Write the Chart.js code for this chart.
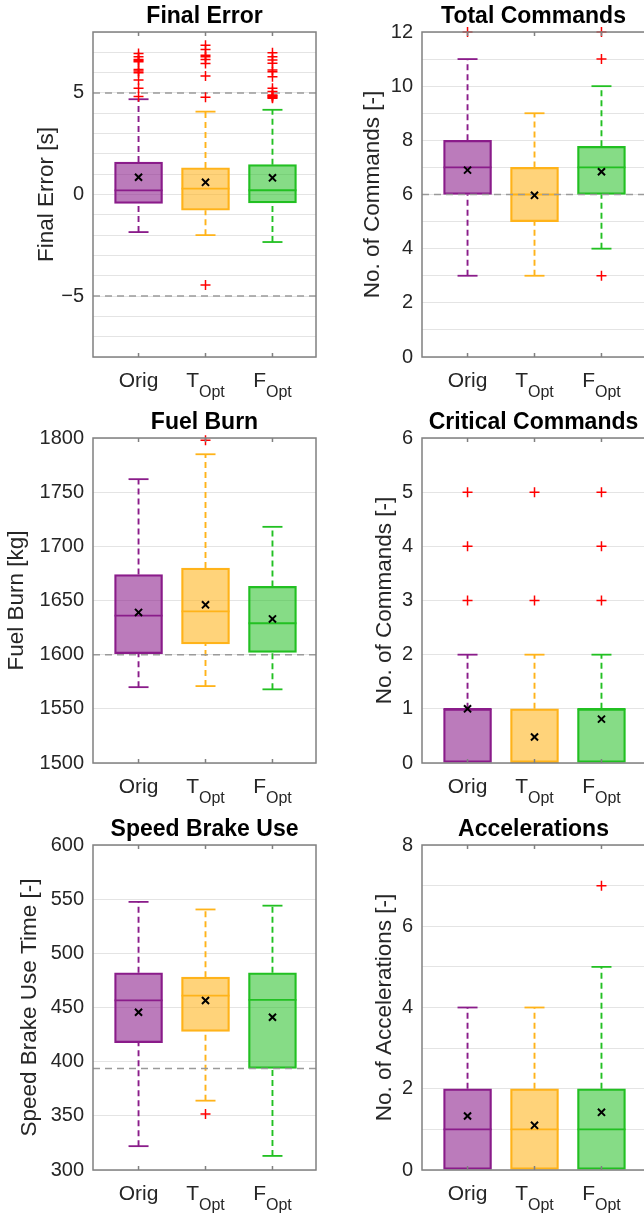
<!DOCTYPE html>
<html>
<head>
<meta charset="utf-8">
<script src="https://cdn.jsdelivr.net/npm/chart.js@4"></script>
<style>
  html, body { margin: 0; padding: 0; background: #fff; overflow: hidden; }
  body { width: 644px; height: 1213px; position: relative; }
  canvas { position: absolute; }
</style>
</head>
<body>
<canvas id="finalError" width="322" height="400" style="left:0;top:0"></canvas>
<canvas id="totalCmds" width="330" height="400" style="left:322px;top:0"></canvas>
<canvas id="fuelBurn" width="322" height="400" style="left:0;top:406px"></canvas>
<canvas id="critCmds" width="330" height="400" style="left:322px;top:406px"></canvas>
<canvas id="speedBrake" width="322" height="400" style="left:0;top:813px"></canvas>
<canvas id="accels" width="330" height="400" style="left:322px;top:813px"></canvas>
<script>
// groups on the x axis: main label + subscript
const groups = ['Orig', 'T', 'F'];
const groupSubs = ['', 'Opt', 'Opt'];
const groupColors = ['#8a1c8a', '#ffb31a', '#22c022'];
const groupFills = ['rgba(138,28,138,0.58)', 'rgba(255,179,26,0.58)', 'rgba(34,192,34,0.55)'];

// box stats per group: [lower whisker, q1, median, q3, upper whisker]
const errBox = [[-1.85, -0.44, 0.20, 1.60, 4.69], [-2.00, -0.77, 0.29, 1.31, 4.08], [-2.34, -0.41, 0.21, 1.47, 4.17]];
const errMean = [0.85, 0.60, 0.82];
const errOut = [
  [4.82, 5.23, 5.64, 6.00, 6.08, 6.15, 6.53, 6.60, 6.65, 6.78, 6.94],
  [-4.46, 4.79, 5.83, 6.45, 6.65, 6.78, 6.86, 7.14, 7.35],
  [4.74, 4.78, 4.82, 4.86, 4.90, 5.07, 5.23, 5.80, 6.04, 6.13, 6.46, 6.62, 6.78, 6.98]
];
const errTicks = [-5, 0, 5];
const errRef = [5, -5];

const cmdBox = [[3, 6, 7, 8, 11], [3, 5, 6, 7, 9], [4, 6, 7, 7.78, 10]];
const cmdMean = [6.9, 5.97, 6.84];
const cmdOut = [[12], [], [3, 11, 12]];
const cmdTicks = [0, 2, 4, 6, 8, 10, 12];
const cmdRef = [6];

const fuelBox = [[1570, 1601, 1636, 1674, 1762], [1571, 1610, 1640, 1680, 1785], [1568, 1602, 1629, 1663, 1718]];
const fuelMean = [1639, 1646, 1633];
const fuelOut = [[], [1798], []];
const fuelTicks = [1500, 1550, 1600, 1650, 1700, 1750, 1800];
const fuelRef = [1600];

const critBox = [[0, 0, 1, 1, 2], [0, 0, 0, 1, 2], [0, 0, 1, 1, 2]];
const critMean = [1.0, 0.48, 0.81];
const critOut = [[3, 4, 5], [3, 5], [3, 4, 5]];
const critTicks = [0, 1, 2, 3, 4, 5, 6];
const critRef = [];

const sbBox = [[322, 417.6, 456.5, 482, 547.5], [364, 428, 461, 478, 540.5], [313, 393.8, 457, 482, 544]];
const sbMean = [445.6, 456.5, 441];
const sbOut = [[], [351.6], []];
const sbTicks = [300, 350, 400, 450, 500, 550, 600];
const sbRef = [393.8];

const accBox = [[0, 0, 1, 2, 4], [0, 0, 1, 2, 4], [0, 0, 1, 2, 5]];
const accMean = [1.33, 1.1, 1.42];
const accOut = [[], [], [7]];
const accTicks = [0, 2, 4, 6, 8];
const accRef = [];

const X_MIN = 0.32, X_MAX = 3.65;
const FONT = "'Liberation Sans', Arial, Helvetica, sans-serif";
Chart.defaults.font.family = FONT;

const LEFT = { chartLeft: 93, padRight: 6 };
const RIGHT = { chartLeft: 100, padRight: 7 };

const panels = [
  { id: 'finalError', side: LEFT, title: 'Final Error', yTitle: 'Final Error [s]', box: errBox, mean: errMean, out: errOut, ticks: errTicks, ref: errRef, min: -8, max: 8, step: 1, padLeft: 33 },
  { id: 'totalCmds', side: RIGHT, title: 'Total Commands', yTitle: 'No. of Commands [-]', box: cmdBox, mean: cmdMean, out: cmdOut, ticks: cmdTicks, ref: cmdRef, min: 0, max: 12, step: 1, padLeft: 37 },
  { id: 'fuelBurn', side: LEFT, title: 'Fuel Burn', yTitle: 'Fuel Burn [kg]', box: fuelBox, mean: fuelMean, out: fuelOut, ticks: fuelTicks, ref: fuelRef, min: 1500, max: 1800, step: 50, padLeft: 3 },
  { id: 'critCmds', side: RIGHT, title: 'Critical Commands', yTitle: 'No. of Commands [-]', box: critBox, mean: critMean, out: critOut, ticks: critTicks, ref: critRef, min: 0, max: 6, step: 1, padLeft: 49 },
  { id: 'speedBrake', side: LEFT, title: 'Speed Brake Use', yTitle: 'Speed Brake Use Time [-]', box: sbBox, mean: sbMean, out: sbOut, ticks: sbTicks, ref: sbRef, min: 300, max: 600, step: 50, padLeft: 16 },
  { id: 'accels', side: RIGHT, title: 'Accelerations', yTitle: 'No. of Accelerations [-]', box: accBox, mean: accMean, out: accOut, ticks: accTicks, ref: accRef, min: 0, max: 8, step: 1, padLeft: 49 }
];

const fmt = v => v < 0 ? '\u2212' + Math.abs(v) : String(v);

// axes frame, inward ticks and the subscripted group labels
const framePlugin = {
  id: 'frame',
  afterDatasetsDraw(chart) {
    const { ctx, chartArea: a } = chart;
    const x = chart.scales.x;
    ctx.save();
    ctx.strokeStyle = '#808080';
    ctx.lineWidth = 1.5;
    ctx.strokeRect(a.left, a.top, a.right - a.left, a.bottom - a.top);
    ctx.beginPath();
    groups.forEach((g, i) => {
      const px = x.getPixelForValue(i + 1);
      ctx.moveTo(px, a.top); ctx.lineTo(px, a.top + 4);
      ctx.moveTo(px, a.bottom); ctx.lineTo(px, a.bottom - 4);
    });
    ctx.stroke();
    ctx.restore();
  },
  afterDraw(chart) {
    const { ctx, chartArea: a } = chart;
    const x = chart.scales.x;
    ctx.save();
    ctx.fillStyle = '#262626';
    ctx.textAlign = 'left';
    ctx.textBaseline = 'alphabetic';
    const mainFont = '21px ' + FONT, subFont = '16px ' + FONT;
    groups.forEach((g, i) => {
      const px = x.getPixelForValue(i + 1);
      ctx.font = mainFont;
      const w1 = ctx.measureText(g).width;
      ctx.font = subFont;
      const w2 = groupSubs[i] ? ctx.measureText(groupSubs[i]).width : 0;
      const x0 = px - (w1 + w2) / 2;
      ctx.font = mainFont;
      ctx.fillText(g, x0, a.bottom + 30);
      if (groupSubs[i]) {
        ctx.font = subFont;
        ctx.fillText(groupSubs[i], x0 + w1, a.bottom + 40);
      }
    });
    ctx.restore();
  }
};

function makeChart(p) {
  const xs = groups.map((g, i) => i + 1);
  const datasets = [];

  // boxes q1..q3
  datasets.push({
    type: 'bar',
    data: p.box.map((b, i) => ({ x: xs[i], y: [b[1], b[3]] })),
    backgroundColor: groupFills, borderColor: groupColors,
    borderWidth: 1.6, borderSkipped: false, barThickness: 48, order: 6
  });

  // dashed whiskers
  p.box.forEach((b, i) => {
    datasets.push({
      type: 'line',
      data: [{ x: xs[i], y: b[0] }, { x: xs[i], y: b[1] }, { x: xs[i], y: null }, { x: xs[i], y: b[3] }, { x: xs[i], y: b[4] }],
      borderColor: groupColors[i], borderWidth: 1.9, borderDash: [6, 4],
      pointRadius: 0, spanGaps: false, fill: false, order: 5
    });
  });

  // whisker caps
  const caps = [], capColors = [];
  p.box.forEach((b, i) => {
    if (b[4] > b[3]) { caps.push({ x: xs[i], y: b[4] }); capColors.push(groupColors[i]); }
    if (b[0] < b[1]) { caps.push({ x: xs[i], y: b[0] }); capColors.push(groupColors[i]); }
  });
  datasets.push({
    type: 'scatter', data: caps, pointStyle: 'line', pointRadius: 10,
    pointBorderColor: capColors, pointBorderWidth: 1.8, order: 4
  });

  // medians
  datasets.push({
    type: 'scatter', data: p.box.map((b, i) => ({ x: xs[i], y: b[2] })),
    pointStyle: 'line', pointRadius: 24, pointBorderColor: groupColors, pointBorderWidth: 1.8, order: 4
  });

  // reference levels
  p.ref.forEach(r => datasets.push({
    type: 'line', data: [{ x: X_MIN, y: r }, { x: X_MAX, y: r }],
    borderColor: '#9a9a9a', borderWidth: 1.5, borderDash: [7, 5], pointRadius: 0, fill: false, order: 3
  }));

  // outliers
  datasets.push({
    type: 'scatter', data: p.out.flatMap((arr, i) => arr.map(v => ({ x: xs[i], y: v }))),
    pointStyle: 'cross', pointRadius: 5, pointBorderColor: '#ff0000', pointBorderWidth: 1.5,
    clip: false, order: 2
  });

  // means
  datasets.push({
    type: 'scatter', data: p.mean.map((m, i) => ({ x: xs[i], y: m })),
    pointStyle: 'crossRot', pointRadius: 5, pointBorderColor: '#000', pointBorderWidth: 2,
    clip: false, order: 1
  });

  return new Chart(document.getElementById(p.id), {
    type: 'bar',
    data: { datasets },
    options: {
      responsive: false,
      animation: false,
      events: [],
      layout: { autoPadding: false, padding: { left: p.padLeft, right: p.side.padRight, top: 0, bottom: 0 } },
      plugins: {
        legend: { display: false },
        tooltip: { enabled: false },
        title: {
          display: true, text: p.title, fullSize: false, color: '#000',
          font: { size: 23, weight: 'bold' }, padding: { top: 3.2, bottom: 1.2 }
        }
      },
      scales: {
        x: {
          type: 'linear', min: X_MIN, max: X_MAX, offset: false,
          grid: { display: false }, ticks: { display: false }, border: { display: false },
          afterFit: s => { s.height = 43; }
        },
        y: {
          type: 'linear', min: p.min, max: p.max,
          ticks: {
            stepSize: p.step, autoSkip: false, padding: 9, color: '#262626', font: { size: 20 },
            callback: v => p.ticks.includes(v) ? fmt(v) : ''
          },
          grid: { color: '#e4e4e4', lineWidth: 1, drawTicks: false },
          border: { display: false },
          title: { display: true, text: p.yTitle, color: '#262626', font: { size: 22.5 }, padding: 0 },
          afterFit: s => { s.width = p.side.chartLeft - p.padLeft; }
        }
      }
    },
    plugins: [framePlugin]
  });
}

panels.forEach(makeChart);
</script>
</body>
</html>
